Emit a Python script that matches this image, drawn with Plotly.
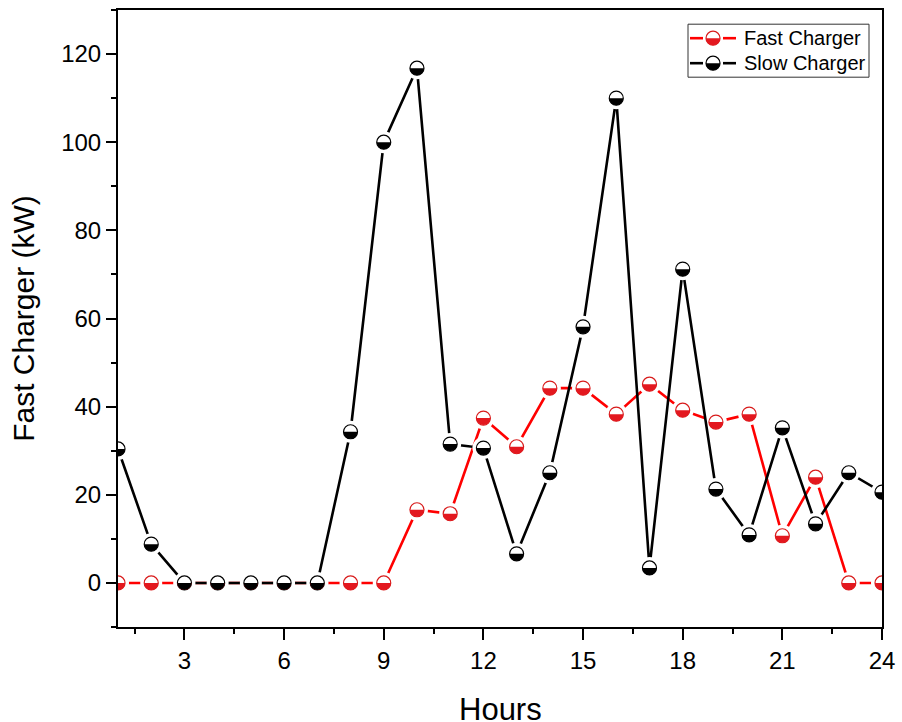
import plotly.graph_objects as go

hours = list(range(1, 25))
fast_charger = [0, 0, 0, 0, 0, 0, 0, 0, 0, 16.6, 15.7, 37.4, 30.9, 44.2, 44.2, 38.3,
                45.1, 39.2, 36.5, 38.3, 10.7, 24.0, 0, 0]
slow_charger = [30.4, 8.8, 0, 0, 0, 0, 0, 34.3, 100.0, 116.8, 31.5, 30.6, 6.6, 25.0,
                58.1, 110.0, 3.4, 71.2, 21.3, 10.9, 35.2, 13.4, 25.0, 20.6]

series = [
    ("Fast Charger", fast_charger, "#FF0000", "#E3181F", "#D81A1A"),
    ("Slow Charger", slow_charger, "#000000", "#000000", "#000000"),
]

FONT = "Arial, Liberation Sans, sans-serif"
MSIZE = 14
R = MSIZE / 2.0

fig = go.Figure()
shapes = []
annotations = []
k = 0.5523 * R
half_path = (f"M{-R},0 C{-R},{-k} {-k},{-R} 0,{-R} "
             f"C{k},{-R} {R},{-k} {R},0 Z")


def half_shape(xref, yref, xa, ya, col):
    return dict(type="path", xref=xref, yref=yref,
                xsizemode="pixel", ysizemode="pixel",
                xanchor=xa, yanchor=ya, path=half_path,
                fillcolor=col, line=dict(width=0), layer="above")


for name, vals, lcol, fcol, ecol in series:
    fig.add_trace(go.Scatter(x=hours, y=vals, mode="lines",
                             line=dict(color=lcol, width=2.6),
                             showlegend=False, hoverinfo="skip"))
    fig.add_trace(go.Scatter(x=hours, y=vals, mode="markers",
                             marker=dict(symbol="circle", size=MSIZE + 8, color="white",
                                         line=dict(width=0)),
                             showlegend=False, hoverinfo="skip"))
    fig.add_trace(go.Scatter(x=hours, y=vals, mode="markers", name=name,
                             marker=dict(symbol="circle", size=MSIZE, color="white",
                                         line=dict(width=1.2, color=ecol)),
                             showlegend=False))
    for xv, yv in zip(hours, vals):
        shapes.append(half_shape("x", "y", xv, yv, fcol))

# ---- hand-built legend, anchored at its top-right corner ----
LX, LY = 0.983, 0.977          # paper anchor (top-right of legend box)
BOX_W, BOX_H = 181, 53
ROW0, ROW_GAP = 14, 25         # first row centre / row spacing (px)
SYM_C = -156                   # symbol centre relative to right edge (px)
SEG = 23                       # half length of the legend line (px)
GAP = R + 3

shapes.append(dict(type="rect", xref="paper", yref="paper",
                   xsizemode="pixel", ysizemode="pixel", xanchor=LX, yanchor=LY,
                   x0=-BOX_W, x1=0, y0=-BOX_H, y1=0,
                   fillcolor="white", line=dict(color="#333333", width=1),
                   layer="above"))
for i, (name, vals, lcol, fcol, ecol) in enumerate(series):
    cy = -(ROW0 + i * ROW_GAP)
    for a, b in ((SYM_C - SEG, SYM_C - GAP), (SYM_C + GAP, SYM_C + SEG)):
        shapes.append(dict(type="line", xref="paper", yref="paper",
                           xsizemode="pixel", ysizemode="pixel", xanchor=LX, yanchor=LY,
                           x0=a, x1=b, y0=cy, y1=cy,
                           line=dict(color=lcol, width=2.6), layer="above"))
    shapes.append(dict(type="circle", xref="paper", yref="paper",
                       xsizemode="pixel", ysizemode="pixel", xanchor=LX, yanchor=LY,
                       x0=SYM_C - R, x1=SYM_C + R, y0=cy - R, y1=cy + R,
                       fillcolor="white", line=dict(color=ecol, width=1.2),
                       layer="above"))
    shapes.append(dict(type="path", xref="paper", yref="paper",
                       xsizemode="pixel", ysizemode="pixel", xanchor=LX, yanchor=LY,
                       path=(f"M{SYM_C - R},{cy} C{SYM_C - R},{cy - k} {SYM_C - k},{cy - R} "
                             f"{SYM_C},{cy - R} C{SYM_C + k},{cy - R} {SYM_C + R},{cy - k} "
                             f"{SYM_C + R},{cy} Z"),
                       fillcolor=fcol, line=dict(width=0), layer="above"))
    annotations.append(dict(xref="paper", yref="paper", x=LX, y=LY,
                            xanchor="left", yanchor="middle",
                            xshift=-127, yshift=cy, text=name, showarrow=False,
                            font=dict(size=20, family=FONT, color="black")))

# x-axis title placed as an annotation so it can sit low, as in the reference
annotations.append(dict(xref="paper", yref="paper", x=0.5, y=0,
                        xanchor="center", yanchor="top", yshift=-63,
                        text="Hours", showarrow=False,
                        font=dict(size=31, family=FONT, color="black")))

fig.update_layout(
    width=902, height=722,
    margin=dict(l=118, r=20, t=10, b=95),
    paper_bgcolor="white", plot_bgcolor="white",
    font=dict(family=FONT, color="#000000"),
    shapes=shapes, annotations=annotations,
    showlegend=False,
)

fig.update_xaxes(
    range=[1, 24], tickmode="linear", tick0=0, dtick=3, automargin=False,
    showline=True, linecolor="black", linewidth=2, mirror=True,
    ticks="outside", ticklen=11, tickwidth=2, tickcolor="black",
    minor=dict(ticks="outside", ticklen=5, tickwidth=2, tickcolor="black",
               tick0=0, dtick=1.5),
    showgrid=False, zeroline=False,
    tickfont=dict(size=24, family=FONT),
)
fig.update_yaxes(
    range=[-10, 130], tickmode="linear", tick0=0, dtick=20, automargin=False,
    showline=True, linecolor="black", linewidth=2, mirror=True,
    ticks="outside", ticklen=10, tickwidth=2, tickcolor="black",
    minor=dict(ticks="outside", ticklen=5, tickwidth=2, tickcolor="black",
               tick0=0, dtick=10),
    showgrid=False, zeroline=False,
    tickfont=dict(size=24, family=FONT),
    title=dict(text="Fast Charger (kW)", font=dict(size=30, family=FONT), standoff=18),
)

fig.write_html("out.html")
